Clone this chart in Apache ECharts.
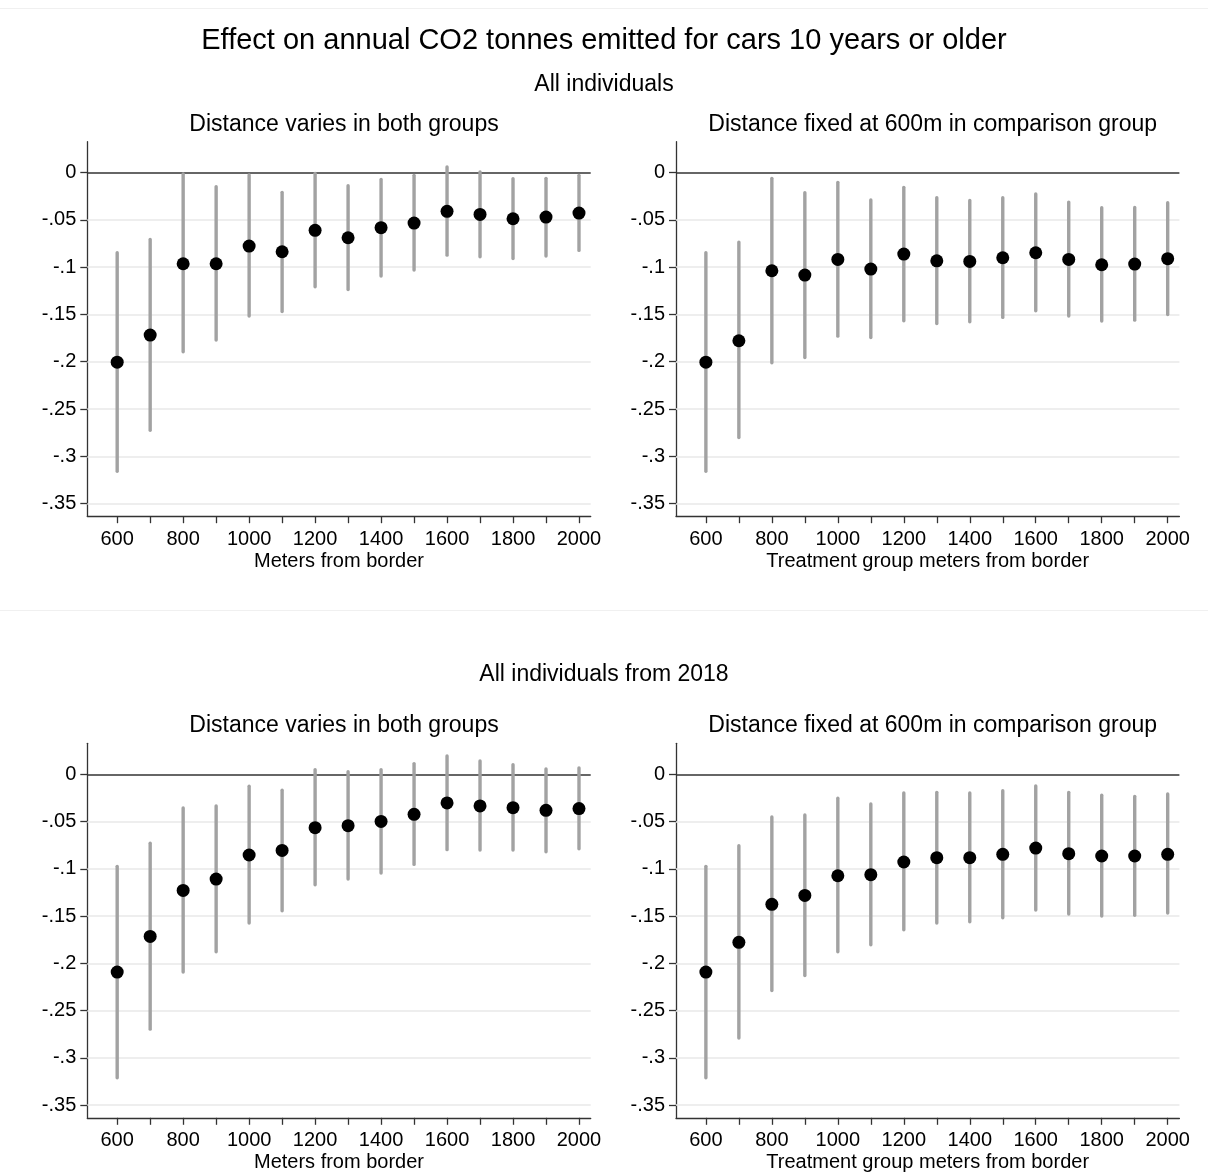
<!DOCTYPE html>
<html>
<head>
<meta charset="utf-8">
<script src="https://cdn.jsdelivr.net/npm/echarts@6/dist/echarts.min.js"></script>
<style>html,body{margin:0;padding:0;background:#fff;}#c{width:1208px;height:1176px;}</style>
</head>
<body>
<div id="c"></div>
<script>
// ---------- data ----------
var distances = [600,700,800,900,1000,1100,1200,1300,1400,1500,1600,1700,1800,1900,2000];
var xTickValues = [600,700,800,900,1000,1100,1200,1300,1400,1500,1600,1700,1800,1900,2000];
var xLabelValues = [600,800,1000,1200,1400,1600,1800,2000];
var yTickValues = [0,-0.05,-0.1,-0.15,-0.2,-0.25,-0.3,-0.35];
var yTickLabels = ['0','-.05','-.1','-.15','-.2','-.25','-.3','-.35'];

var mainTitle = 'Effect on annual CO2 tonnes emitted for cars 10 years or older';
var rowTitles = ['All individuals', 'All individuals from 2018'];
var panelTitles = ['Distance varies in both groups', 'Distance fixed at 600m in comparison group'];
var xAxisTitles = ['Meters from border', 'Treatment group meters from border'];

// Top-left: all individuals, distance varies in both groups
var tlEst = [-0.2004,-0.1718,-0.0963,-0.0963,-0.0776,-0.0836,-0.0610,-0.0688,-0.0582,-0.0533,-0.0409,-0.0441,-0.0487,-0.0469,-0.0427];
var tlHi  = [-0.0847,-0.0706,-0.0014,-0.0148,-0.0025,-0.0208,-0.0007,-0.0138,-0.0071,-0.0028,0.0060,0.0007,-0.0064,-0.0060,-0.0028];
var tlLo  = [-0.3158,-0.2724,-0.1895,-0.1771,-0.1517,-0.1468,-0.1207,-0.1235,-0.1094,-0.1030,-0.0872,-0.0889,-0.0907,-0.0882,-0.0822];
// Top-right: all individuals, distance fixed at 600m
var trEst = [-0.2004,-0.1778,-0.1037,-0.1083,-0.0917,-0.1020,-0.0861,-0.0932,-0.0939,-0.0900,-0.0847,-0.0917,-0.0974,-0.0967,-0.0910];
var trHi  = [-0.0847,-0.0734,-0.0060,-0.0212,-0.0102,-0.0289,-0.0155,-0.0265,-0.0293,-0.0265,-0.0226,-0.0311,-0.0371,-0.0367,-0.0318];
var trLo  = [-0.3158,-0.2802,-0.2011,-0.1955,-0.1729,-0.1743,-0.1567,-0.1595,-0.1577,-0.1531,-0.1461,-0.1517,-0.1570,-0.1560,-0.1500];
// Bottom-left: from 2018, distance varies in both groups
var blEst = [-0.2092,-0.1715,-0.1228,-0.1108,-0.0854,-0.0805,-0.0565,-0.0543,-0.0498,-0.0423,-0.0303,-0.0335,-0.0353,-0.0381,-0.0363];
var blHi  = [-0.0974,-0.0730,-0.0356,-0.0335,-0.0127,-0.0169,0.0049,0.0028,0.0049,0.0113,0.0194,0.0141,0.0102,0.0056,0.0067];
var blLo  = [-0.3211,-0.2696,-0.2092,-0.1877,-0.1574,-0.1443,-0.1168,-0.1108,-0.1044,-0.0953,-0.0797,-0.0801,-0.0801,-0.0819,-0.0787];
// Bottom-right: from 2018, distance fixed at 600m
var brEst = [-0.2092,-0.1778,-0.1376,-0.1281,-0.1073,-0.1062,-0.0928,-0.0882,-0.0882,-0.0847,-0.0780,-0.0840,-0.0864,-0.0864,-0.0847];
var brHi  = [-0.0974,-0.0755,-0.0452,-0.0430,-0.0254,-0.0314,-0.0198,-0.0191,-0.0198,-0.0173,-0.0124,-0.0191,-0.0222,-0.0233,-0.0208];
var brLo  = [-0.3211,-0.2791,-0.2287,-0.2128,-0.1877,-0.1803,-0.1644,-0.1574,-0.1560,-0.1517,-0.1436,-0.1478,-0.1500,-0.1492,-0.1468];

// ---------- build ----------
var FONT = "'Liberation Sans', Arial, sans-serif";
var panels = [
  {est: tlEst, lo: tlLo, hi: tlHi, left: 87.3, top: 141.7, title: panelTitles[0], xname: xAxisTitles[0]},
  {est: trEst, lo: trLo, hi: trHi, left: 676, top: 141.7, title: panelTitles[1], xname: xAxisTitles[1]},
  {est: blEst, lo: blLo, hi: blHi, left: 87.3, top: 743.3, title: panelTitles[0], xname: xAxisTitles[0]},
  {est: brEst, lo: brLo, hi: brHi, left: 676, top: 743.3, title: panelTitles[1], xname: xAxisTitles[1]}
];
var GW = 503.4, GH = 374.5;
var XMIN = 509.4, XMAX = 2035.5, YMIN = -0.3634, YMAX = 0.0328;

var grids = [], xAxes = [], yAxes = [], series = [], titles = [];
titles.push({text: mainTitle, left: 'center', top: 21, textStyle: {fontFamily: FONT, fontSize: 29, fontWeight: 'normal', color: '#000'}});
titles.push({text: rowTitles[0], left: 'center', top: 68, textStyle: {fontFamily: FONT, fontSize: 23, fontWeight: 'normal', color: '#000'}});
titles.push({text: rowTitles[1], left: 'center', top: 658, textStyle: {fontFamily: FONT, fontSize: 23, fontWeight: 'normal', color: '#000'}});

panels.forEach(function (p, i) {
  grids.push({left: p.left, top: p.top, width: GW, height: GH, containLabel: false});
  titles.push({text: p.title, left: p.left + GW / 2, textAlign: 'center', top: p.top - 34,
    textStyle: {fontFamily: FONT, fontSize: 23, fontWeight: 'normal', color: '#000'}});
  xAxes.push({
    type: 'value', gridIndex: i, min: XMIN, max: XMAX,
    name: p.xname, nameLocation: 'middle', nameGap: 35,
    nameTextStyle: {fontFamily: FONT, fontSize: 20, color: '#000'},
    axisLine: {show: true, onZero: false, lineStyle: {color: '#333', width: 1.3}},
    axisTick: {show: true, inside: false, length: 7, customValues: xTickValues, lineStyle: {color: '#333', width: 1.3}},
    axisLabel: {show: true, margin: 13, customValues: xLabelValues, fontFamily: FONT, fontSize: 20, color: '#000',
      showMinLabel: true, showMaxLabel: true,
      formatter: function (v) { return String(Math.round(v)); }},
    splitLine: {show: false}
  });
  yAxes.push({
    type: 'value', gridIndex: i, min: YMIN, max: YMAX,
    axisLine: {show: true, onZero: false, lineStyle: {color: '#333', width: 1.3}},
    axisTick: {show: true, inside: false, length: 7, customValues: yTickValues, lineStyle: {color: '#333', width: 1.3}},
    axisLabel: {show: true, margin: 11, customValues: yTickValues, fontFamily: FONT, fontSize: 20, color: '#000',
      formatter: function (v) {
        for (var k = 0; k < yTickValues.length; k++) { if (Math.abs(v - yTickValues[k]) < 1e-6) return yTickLabels[k]; }
        return '';
      }},
    splitLine: {show: false}
  });
  var ciData = distances.map(function (d, j) { return [d, p.lo[j], p.hi[j]]; });
  var ptData = distances.map(function (d, j) { return [d, p.est[j]]; });
  // gridlines + zero line
  var gridLines = yTickValues.filter(function (v) { return v !== 0; }).map(function (v) {
    return {yAxis: v, lineStyle: {color: '#e8e8e8', width: 1.6, type: 'solid'}};
  });
  gridLines.push({yAxis: 0, lineStyle: {color: '#333', width: 1.6, type: 'solid'}});
  series.push({
    type: 'custom', xAxisIndex: i, yAxisIndex: i, z: 2, silent: true,
    data: ciData, encode: {x: 0, y: [1, 2]},
    renderItem: function (params, api) {
      var x = api.value(0), lo = api.value(1), hi = api.value(2);
      var a = api.coord([x, lo]), b = api.coord([x, hi]);
      return {type: 'line', shape: {x1: a[0], y1: a[1], x2: b[0], y2: b[1]},
        style: {stroke: '#a2a2a2', lineWidth: 3.4, lineCap: 'round'}};
    },
    markLine: {silent: true, symbol: ['none', 'none'], label: {show: false}, animation: false, z: 1,
      data: gridLines}
  });
  series.push({
    type: 'scatter', xAxisIndex: i, yAxisIndex: i, z: 3, silent: true,
    data: ptData, symbol: 'circle', symbolSize: 13,
    itemStyle: {color: '#000', opacity: 1}
  });
});

var chart = echarts.init(document.getElementById('c'), null, {renderer: 'canvas'});
chart.setOption({
  backgroundColor: '#fff',
  animation: false,
  title: titles,
  grid: grids,
  xAxis: xAxes,
  yAxis: yAxes,
  series: series,
  graphic: [
    {type: 'line', shape: {x1: 0, y1: 8.5, x2: 1208, y2: 8.5}, style: {stroke: '#f0f0f0', lineWidth: 1}, silent: true},
    {type: 'line', shape: {x1: 0, y1: 610.5, x2: 1208, y2: 610.5}, style: {stroke: '#f0f0f0', lineWidth: 1}, silent: true}
  ]
});
</script>
</body>
</html>
